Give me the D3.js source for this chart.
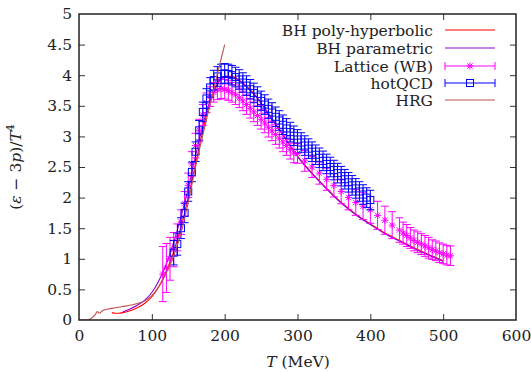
<!DOCTYPE html>
<html><head><meta charset="utf-8">
<script src="https://cdn.jsdelivr.net/npm/d3@7"></script>
<style>body{margin:0;background:#fff}svg{display:block}</style>
</head><body>
<svg id="c" width="531" height="372"></svg>
<script>
// ---- data ----
const xTicks = [0,100,200,300,400,500,600];
const yTicks = [0,0.5,1,1.5,2,2.5,3,3.5,4,4.5,5];
const yTickLabels = ["0","0.5","1","1.5","2","2.5","3","3.5","4","4.5","5"];

const polyT = [45,50,55,60,70,80,90,100,110,120,130,140,150,160,170,180,190,200,210,220,230,240,250,260,270,280,290,300,320,340,360,380,400,420,440,460,480,500];
const polyV = [0.12,0.11,0.11,0.12,0.15,0.2,0.27,0.38,0.55,0.8,1.12,1.52,2.0,2.55,3.1,3.55,3.85,3.98,3.98,3.92,3.82,3.7,3.55,3.38,3.2,3.03,2.85,2.68,2.4,2.15,1.92,1.73,1.57,1.42,1.3,1.18,1.07,0.97];

const paramT = [60,70,80,90,100,110,120,130,140,150,160,170,180,190,200,210,220,230,240,250,260,270,280,290,300,320,340,360,380,400,420,440,460,480,500];
const paramV = [0.13,0.18,0.24,0.32,0.45,0.65,0.92,1.27,1.68,2.15,2.68,3.18,3.58,3.86,3.98,3.97,3.91,3.81,3.69,3.54,3.37,3.19,3.02,2.84,2.67,2.39,2.14,1.91,1.72,1.56,1.41,1.29,1.17,1.06,0.96];

const hrgT = [0,12,16,20,23,25,28,32,40,50,60,70,80,90,100,110,120,130,140,150,160,170,180,190,200];
const hrgV = [0,0,0.02,0.06,0.1,0.14,0.11,0.15,0.18,0.2,0.22,0.24,0.27,0.31,0.4,0.55,0.77,1.05,1.42,1.92,2.5,3.02,3.52,4.02,4.5];

const wbT = [115,120,125,130,135,140,145,150,155,160,165,170,175,180,185,190,195,200,205,210,215,220,225,230,235,240,245,250,255,260,265,270,275,280,285,290,295,300,310,320,330,340,350,360,370,380,390,400,410,420,430,440,445,450,455,460,465,470,475,480,485,490,495,500,505,510];
const wbV = [0.75,0.85,1.0,1.15,1.35,1.6,1.9,2.2,2.55,2.85,3.1,3.35,3.55,3.65,3.72,3.76,3.78,3.77,3.75,3.72,3.68,3.63,3.58,3.52,3.46,3.4,3.34,3.28,3.22,3.15,3.09,3.03,2.97,2.91,2.85,2.79,2.73,2.72,2.6,2.5,2.4,2.3,2.2,2.1,2.0,1.92,1.86,1.8,1.71,1.63,1.55,1.47,1.42,1.38,1.34,1.3,1.27,1.24,1.21,1.18,1.15,1.13,1.1,1.08,1.06,1.05];
const wbE = [0.45,0.4,0.35,0.28,0.22,0.2,0.2,0.2,0.2,0.2,0.18,0.17,0.16,0.16,0.16,0.16,0.16,0.16,0.16,0.16,0.16,0.16,0.16,0.16,0.16,0.16,0.16,0.16,0.16,0.16,0.16,0.16,0.16,0.16,0.16,0.16,0.16,0.16,0.17,0.17,0.18,0.18,0.19,0.2,0.2,0.21,0.22,0.22,0.23,0.23,0.22,0.2,0.18,0.18,0.17,0.17,0.17,0.17,0.17,0.17,0.16,0.16,0.16,0.16,0.16,0.16];

const hqT = [130,135,140,145,150,155,160,165,170,175,180,185,190,195,200,205,210,215,220,225,230,235,240,245,250,255,260,265,270,275,280,285,290,295,300,305,310,315,320,325,330,335,340,345,350,355,360,365,370,375,380,385,390,395,400];
const hqV = [1.1,1.24,1.5,1.75,2.1,2.42,2.75,3.1,3.4,3.62,3.8,3.92,3.98,4.02,4.03,4.02,4.0,3.97,3.93,3.88,3.83,3.77,3.71,3.65,3.58,3.52,3.45,3.39,3.32,3.26,3.19,3.13,3.07,3.01,2.95,2.9,2.85,2.8,2.75,2.7,2.65,2.6,2.55,2.5,2.45,2.4,2.35,2.3,2.25,2.2,2.15,2.1,2.05,2.0,1.96];
const hqE = [0.2,0.18,0.17,0.16,0.16,0.16,0.16,0.16,0.16,0.16,0.16,0.16,0.16,0.16,0.16,0.16,0.16,0.16,0.16,0.16,0.16,0.16,0.16,0.16,0.16,0.16,0.16,0.16,0.16,0.16,0.16,0.16,0.16,0.16,0.16,0.16,0.16,0.16,0.16,0.16,0.16,0.16,0.16,0.16,0.16,0.16,0.16,0.16,0.16,0.16,0.16,0.16,0.16,0.16,0.16];

const seriesNames = ["BH poly-hyperbolic","BH parametric","Lattice (WB)","hotQCD","HRG"];
const seriesColors = ["#ff0000","#9400d3","#ff00ff","#0000ff","#c05050"];

// ---- layout ----
const L=79, R=516, T=14, B=320;
const FONT = "DejaVu Serif, serif";
const FS = 15.5;
const svg = d3.select("#c");
const x = d3.scaleLinear().domain([0,600]).range([L,R]);
const y = d3.scaleLinear().domain([0,5]).range([B,T]);

// axes (inward ticks, mirrored)
const tl = 6;
const axB = svg.append("g").attr("transform",`translate(0,${B})`)
  .call(d3.axisBottom(x).tickValues(xTicks).tickSize(-tl).tickPadding(10).tickFormat(d3.format("d")));
const axT = svg.append("g").attr("transform",`translate(0,${T})`)
  .call(d3.axisTop(x).tickValues(xTicks).tickSize(-tl).tickFormat(""));
const axL = svg.append("g").attr("transform",`translate(${L},0)`)
  .call(d3.axisLeft(y).tickValues(yTicks).tickSize(-tl).tickPadding(7).tickFormat((d,i)=>yTickLabels[i]));
const axR = svg.append("g").attr("transform",`translate(${R},0)`)
  .call(d3.axisRight(y).tickValues(yTicks).tickSize(-tl).tickFormat(""));
[axB,axT,axL,axR].forEach(a=>{
  a.select(".domain").remove();
  a.selectAll(".tick line").attr("stroke","#333").attr("stroke-width",1);
  a.selectAll("text").attr("font-family",FONT).attr("font-size",FS).attr("fill","#222");
});
axB.selectAll(".tick").filter(d=>d===0||d===600).select("line").remove();
axT.selectAll(".tick").filter(d=>d===0||d===600).select("line").remove();
axL.selectAll(".tick").filter(d=>d===0||d===5).select("line").remove();
axR.selectAll(".tick").filter(d=>d===0||d===5).select("line").remove();

const plot = svg.append("g");
plot.append("clipPath").attr("id","clip").append("rect").attr("x",L).attr("y",T).attr("width",R-L).attr("height",B-T);
const g = plot.append("g").attr("clip-path","url(#clip)");

const line = d3.line().x(d=>x(d[0])).y(d=>y(d[1])).curve(d3.curveMonotoneX);
function drawLine(ts,vs,color,w){
  g.append("path").datum(ts.map((t,i)=>[t,vs[i]])).attr("d",line)
    .attr("fill","none").attr("stroke",color).attr("stroke-width",w);
}
drawLine(polyT,polyV,seriesColors[0],1.1);
drawLine(paramT,paramV,seriesColors[1],1.1);

function errBars(ts,vs,es,color,cap){
  const gg = g.append("g").attr("stroke",color).attr("stroke-width",1).attr("fill","none");
  ts.forEach((t,i)=>{
    const cx=x(t), y1=y(vs[i]-es[i]), y2=y(vs[i]+es[i]);
    gg.append("line").attr("x1",cx).attr("x2",cx).attr("y1",y1).attr("y2",y2);
    gg.append("line").attr("x1",cx-cap).attr("x2",cx+cap).attr("y1",y1).attr("y2",y1);
    gg.append("line").attr("x1",cx-cap).attr("x2",cx+cap).attr("y1",y2).attr("y2",y2);
  });
  return gg;
}
function star(gg,cx,cy,s){
  gg.append("path").attr("d",`M${cx-s},${cy}H${cx+s}M${cx},${cy-s}V${cy+s}M${cx-s*0.75},${cy-s*0.75}L${cx+s*0.75},${cy+s*0.75}M${cx-s*0.75},${cy+s*0.75}L${cx+s*0.75},${cy-s*0.75}`);
}
const wbG = errBars(wbT,wbV,wbE,seriesColors[2],4);
wbT.forEach((t,i)=>star(wbG,x(t),y(wbV[i]),3.5));
const hqG = errBars(hqT,hqV,hqE,seriesColors[3],4);
hqT.forEach((t,i)=>hqG.append("rect").attr("x",x(t)-3.5).attr("y",y(hqV[i])-3.5).attr("width",7).attr("height",7));
drawLine(hrgT,hrgV,seriesColors[4],1.1);

// frame
svg.append("rect").attr("x",L).attr("y",T).attr("width",R-L).attr("height",B-T)
  .attr("fill","none").attr("stroke","#222").attr("stroke-width",1.5);

// legend
const legY=[30,48,66,83,100];
const lg = svg.append("g");
seriesNames.forEach((n,i)=>{
  lg.append("text").attr("x",433).attr("y",legY[i]).attr("dy","0.36em").attr("text-anchor","end")
    .attr("font-family",FONT).attr("font-size",FS).attr("fill","#222").text(n);
  const c=seriesColors[i];
  lg.append("line").attr("x1",445).attr("x2",495).attr("y1",legY[i]).attr("y2",legY[i]).attr("stroke",c).attr("stroke-width",1.1);
  if(i===2||i===3){
    [445,495].forEach(xx=>lg.append("line").attr("x1",xx).attr("x2",xx).attr("y1",legY[i]-4).attr("y2",legY[i]+4).attr("stroke",c));
    const gg=lg.append("g").attr("stroke",c).attr("fill","none");
    if(i===2) star(gg,470,legY[i],3.5);
    else gg.append("rect").attr("x",466.5).attr("y",legY[i]-3.5).attr("width",7).attr("height",7);
  }
});

// axis titles
const xt = svg.append("text").attr("x",298).attr("y",367).attr("text-anchor","middle")
  .attr("font-family",FONT).attr("font-size",FS).attr("fill","#222");
xt.append("tspan").attr("font-style","italic").text("T");
xt.append("tspan").text("  (MeV)");
const yt = svg.append("text").attr("transform","translate(21,167) rotate(-90)").attr("text-anchor","middle")
  .attr("font-family",FONT).attr("font-size",FS).attr("fill","#222");
yt.append("tspan").text("(");
yt.append("tspan").attr("font-style","italic").text("ε");
yt.append("tspan").text(" − 3");
yt.append("tspan").attr("font-style","italic").text("p");
yt.append("tspan").text(")/");
yt.append("tspan").attr("font-style","italic").text("T");
yt.append("tspan").attr("font-size",11).attr("dy",-7).text("4");
</script>
</body></html>
